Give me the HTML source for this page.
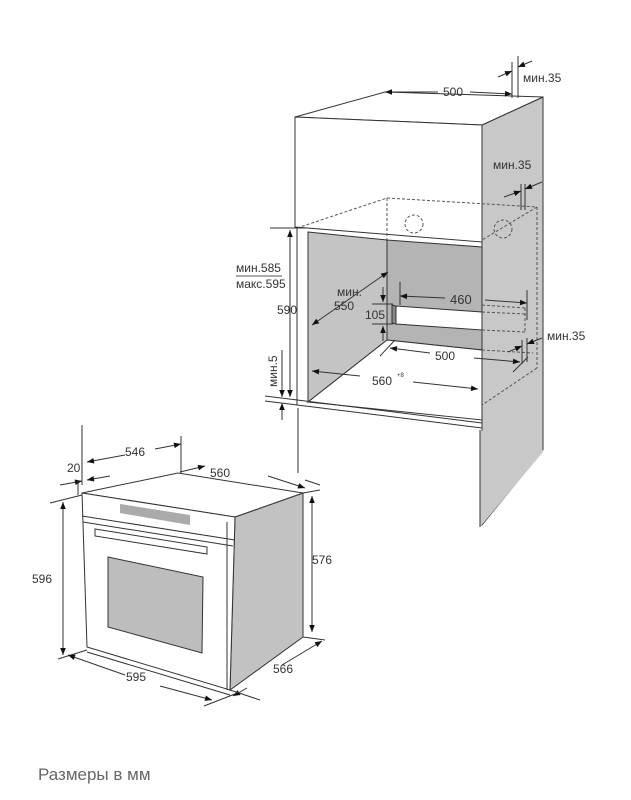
<!DOCTYPE html>
<html><head><meta charset="utf-8"><style>
body{margin:0;background:#fff}
svg{display:block}
text{font-family:"Liberation Sans","DejaVu Sans",sans-serif;fill:#333}
</style></head><body>
<svg width="631" height="800" viewBox="0 0 631 800" xmlns="http://www.w3.org/2000/svg">
<defs>
<marker id="a" viewBox="0 0 10 10" refX="10" refY="5" markerWidth="9" markerHeight="7" orient="auto-start-reverse" markerUnits="userSpaceOnUse"><path d="M0,1 L10,5 L0,9 z" fill="#111"/></marker>
</defs>
<g stroke="#333" stroke-width="1" fill="none">
<polygon points="482,125 543,97 543,450 482,525" fill="#c8c8c8"/>
<polygon points="295,117 385,92 543,97 482,125" fill="#fff"/>
<polygon points="295,117 482,125 482,242 295,227" fill="#fff"/>
<polygon points="308,232 387,240 387,340 308,402" fill="#c4c4c4"/>
<polygon points="387,240 482,247 482,350 387,340" fill="#b4b4b4"/>
<polygon points="308,402 387,340 482,350 482,420" fill="#fff"/>
<line x1="297" y1="227" x2="297" y2="405"/>
<line x1="308" y1="232" x2="308" y2="402"/>
<polygon points="396,306 482,312 482,330 396,324" fill="#fff"/>
<polygon points="392,305 396,306 396,324 392,323" fill="#888"/>
<g stroke-dasharray="3,2" stroke="#555">
<line x1="297" y1="228" x2="387" y2="198"/>
<line x1="387" y1="198" x2="537" y2="207"/>
<line x1="537" y1="207" x2="537" y2="368"/>
<line x1="537" y1="207" x2="482" y2="240"/>
<line x1="387" y1="198" x2="387" y2="240"/>
<line x1="482" y1="305" x2="525" y2="308"/>
<line x1="482" y1="312" x2="525" y2="314"/>
<line x1="482" y1="330" x2="525" y2="332"/>
<line x1="525" y1="308" x2="525" y2="332"/>
<line x1="482" y1="350" x2="533" y2="353"/>
<line x1="537" y1="368" x2="482" y2="405"/>
<circle cx="414" cy="224" r="9"/>
<circle cx="503" cy="229" r="9"/>
</g>
<line x1="265" y1="396" x2="482" y2="423"/>
<line x1="265" y1="401" x2="482" y2="428"/>
<line x1="482" y1="423" x2="482" y2="428"/>
<line x1="298" y1="408" x2="298" y2="472"/>
<polygon points="480,430 543,450 543,452 480,527" fill="#c8c8c8" stroke="none"/>
<line x1="480" y1="430" x2="480" y2="527"/>
<line x1="270" y1="228" x2="308" y2="228"/>

<line x1="385" y1="92" x2="438" y2="92" marker-start="url(#a)"/>
<line x1="470" y1="92" x2="512" y2="94" marker-end="url(#a)"/>
<line x1="512" y1="62" x2="512" y2="98"/>
<line x1="518" y1="56" x2="518" y2="98"/>
<line x1="498" y1="77" x2="512" y2="71" marker-end="url(#a)"/>
<line x1="532" y1="61" x2="518" y2="67" marker-end="url(#a)"/>
<line x1="521" y1="184" x2="521" y2="210"/>
<line x1="525" y1="184" x2="525" y2="210"/>
<line x1="504" y1="197" x2="521" y2="191" marker-end="url(#a)"/>
<line x1="542" y1="182" x2="525" y2="189" marker-end="url(#a)"/>
<line x1="290" y1="230" x2="290" y2="397" marker-start="url(#a)" marker-end="url(#a)"/>
<line x1="282" y1="350" x2="282" y2="397" marker-end="url(#a)"/>
<line x1="282" y1="420" x2="282" y2="403" marker-end="url(#a)"/>
<line x1="388" y1="272" x2="312" y2="325" marker-start="url(#a)" marker-end="url(#a)"/>
<line x1="383" y1="287" x2="383" y2="302" marker-end="url(#a)"/>
<line x1="383" y1="341" x2="383" y2="326" marker-end="url(#a)"/>
<line x1="372" y1="304" x2="393" y2="304"/>
<line x1="372" y1="324" x2="393" y2="324"/>
<line x1="400" y1="282" x2="400" y2="305"/>
<line x1="400" y1="296" x2="445" y2="298" marker-start="url(#a)"/>
<line x1="485" y1="300" x2="527" y2="303" marker-end="url(#a)"/>
<line x1="527" y1="290" x2="527" y2="320"/>
<line x1="390" y1="348" x2="430" y2="353" marker-start="url(#a)"/>
<line x1="474" y1="358" x2="520" y2="362" marker-end="url(#a)"/>
<line x1="380" y1="356" x2="395" y2="340"/>
<line x1="513" y1="372" x2="528" y2="357"/>
<line x1="522" y1="340" x2="522" y2="364"/>
<line x1="527" y1="338" x2="527" y2="362"/>
<line x1="508" y1="352" x2="522" y2="346" marker-end="url(#a)"/>
<line x1="542" y1="338" x2="527" y2="344" marker-end="url(#a)"/>
<line x1="312" y1="371" x2="360" y2="376" marker-start="url(#a)"/>
<line x1="413" y1="382" x2="478" y2="389" marker-end="url(#a)"/>
<line x1="236" y1="276" x2="282" y2="276" stroke="#555"/>

<polygon points="235,517 303,493 303,637 230,690" fill="#c2c2c2"/>
<polygon points="82,493 178,473 303,493 235,517" fill="#fff"/>
<polygon points="82,493 235,517 230,690 87,647" fill="#fff"/>
<line x1="82" y1="516" x2="235" y2="540"/>
<line x1="83" y1="522" x2="233" y2="546"/>
<polygon points="120,504 190,515 190,525 120,513" fill="#aaa" stroke="none"/>
<polygon points="95,529 207,547 207,554 95,536" fill="#fff"/>
<polygon points="108,557 203,577 202,653 108,627" fill="#bdbdbd"/>
<line x1="87" y1="652" x2="230" y2="695"/>
<line x1="227" y1="522" x2="227" y2="690"/>
<line x1="82" y1="485" x2="82" y2="425"/>
<line x1="87" y1="462" x2="125" y2="455" marker-start="url(#a)"/>
<line x1="155" y1="449" x2="181" y2="444" marker-end="url(#a)"/>
<line x1="181" y1="436" x2="181" y2="473"/>
<line x1="60" y1="485" x2="82" y2="481" marker-end="url(#a)"/>
<line x1="110" y1="476" x2="87" y2="480" marker-end="url(#a)"/>
<line x1="78" y1="481" x2="78" y2="495"/>
<line x1="180" y1="472" x2="205" y2="466" marker-end="url(#a)"/>
<line x1="268" y1="476" x2="305" y2="488" marker-end="url(#a)"/>
<line x1="298" y1="430" x2="298" y2="473"/>
<line x1="305" y1="480" x2="320" y2="485"/>
<line x1="50" y1="503" x2="82" y2="495"/>
<line x1="63" y1="502" x2="63" y2="655" marker-start="url(#a)" marker-end="url(#a)"/>
<line x1="58" y1="659" x2="87" y2="650"/>
<line x1="312" y1="496" x2="312" y2="632" marker-start="url(#a)" marker-end="url(#a)"/>
<line x1="303" y1="637" x2="325" y2="640"/>
<line x1="303" y1="493" x2="320" y2="490"/>
<line x1="68" y1="655" x2="125" y2="675" marker-start="url(#a)"/>
<line x1="160" y1="686" x2="212" y2="700" marker-end="url(#a)"/>
<line x1="204" y1="706" x2="235" y2="694"/>
<line x1="322" y1="641" x2="282" y2="665" marker-start="url(#a)"/>
<line x1="247" y1="688" x2="233" y2="696" marker-end="url(#a)"/>
<line x1="230" y1="690" x2="260" y2="700"/>
</g>
<g font-size="12">
<text x="443" y="96">500</text>
<text x="523" y="82">мин.35</text>
<text x="493" y="169">мин.35</text>
<text x="236" y="272">мин.585</text>
<text x="236" y="288">макс.595</text>
<text x="277" y="314">590</text>
<text x="337" y="296">мин.</text>
<text x="334" y="310">550</text>
<text x="450" y="304" font-size="13">460</text>
<text x="365" y="319">105</text>
<text x="435" y="360">500</text>
<text x="547" y="340">мин.35</text>
<text x="372" y="385">560</text><text x="397" y="377" font-size="6">+8</text>
<text x="277" y="387" transform="rotate(-90 277 387)">мин.5</text>
<text x="125" y="456">546</text>
<text x="67" y="472">20</text>
<text x="210" y="477">560</text>
<text x="312" y="564">576</text>
<text x="32" y="583">596</text>
<text x="126" y="681">595</text>
<text x="273" y="673">566</text>
</g>
<text x="38" y="780" font-size="17" style="fill:#666">Размеры в мм</text>
</svg>
</body></html>
